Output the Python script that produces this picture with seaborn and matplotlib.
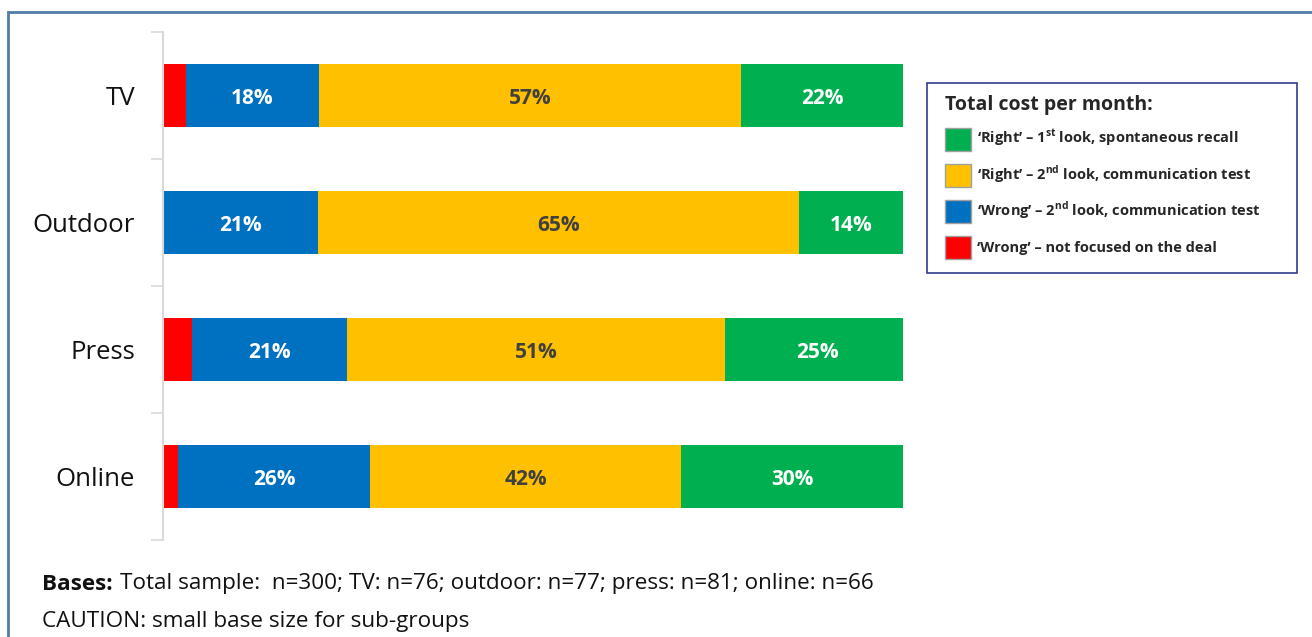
import matplotlib
matplotlib.use("Agg")
import matplotlib.pyplot as plt
import seaborn as sns
import pandas as pd
import numpy as np
from matplotlib.patches import Rectangle, Patch
from matplotlib.ticker import FixedLocator

# ---- data ----
categories = ["TV", "Outdoor", "Press", "Online"]
wrong_not_focused = [3.1, 0.0, 3.9, 2.0]
wrong_second_look = [18, 21, 21, 26]
right_second_look = [57, 65, 51, 42]
right_first_look = [22, 14, 25, 30]
label_wrong_second = ["18%", "21%", "21%", "26%"]
label_right_second = ["57%", "65%", "51%", "42%"]
label_right_first = ["22%", "14%", "25%", "30%"]
series_names = [
    "\u2018Wrong\u2019 \u2013 not focused on the deal",
    "\u2018Wrong\u2019 \u2013 2$^{\\mathbf{nd}}$ look, communication test",
    "\u2018Right\u2019 \u2013 2$^{\\mathbf{nd}}$ look, communication test",
    "\u2018Right\u2019 \u2013 1$^{\\mathbf{st}}$ look, spontaneous recall",
]
legend_title = "Total cost per month:"
colors = ["#FF0000", "#0070C0", "#FFC000", "#00B050"]

sns.set_theme(style="white")
plt.rcParams["font.family"] = ["Open Sans", "DejaVu Sans"]
plt.rcParams["mathtext.fontset"] = "custom"
plt.rcParams["mathtext.bf"] = "Open Sans:bold"
plt.rcParams["mathtext.rm"] = "Open Sans"

df = pd.DataFrame({
    "cat": categories,
    "s0": wrong_not_focused,
    "s1": wrong_second_look,
    "s2": right_second_look,
    "s3": right_first_look,
})
cols = ["s0", "s1", "s2", "s3"]
cum = df[cols].cumsum(axis=1)

fig = plt.figure(figsize=(13.12, 6.37), dpi=100)
ax = fig.add_axes([163 / 1312, 1 - 540 / 637, 740 / 1312, 508 / 637])

# stacked bars: draw cumulative totals from largest to smallest
for i in reversed(range(4)):
    sns.barplot(x=cum[cols[i]], y=df["cat"], orient="h", color=colors[i],
                width=0.49, ax=ax, saturation=1, linewidth=0)

# labels
lefts = cum[cols].values - df[cols].values
label_sets = {1: (label_wrong_second, "white"),
              2: (label_right_second, "#404040"),
              3: (label_right_first, "white")}
for si, (labs, c) in label_sets.items():
    for r in range(len(categories)):
        xc = lefts[r, si] + df[cols[si]].iloc[r] / 2
        ax.text(xc, r + 0.02, labs[r], ha="center", va="center", color=c,
                fontsize=15, fontweight="bold")

ax.set_xlim(0, 100)
ax.set_ylim(3.5, -0.5)
ax.set_xlabel("")
ax.set_ylabel("")
ax.set_xticks([])
for s in ["top", "right", "bottom"]:
    ax.spines[s].set_visible(False)
ax.spines["left"].set_color("#D9D9D9")
ax.spines["left"].set_linewidth(1.5)
ax.tick_params(axis="y", which="major", length=0, pad=20, labelsize=18.5,
               labelcolor="#111111")
ax.yaxis.set_minor_locator(FixedLocator([-0.5, 0.5, 1.5, 2.5, 3.5]))
ax.tick_params(axis="y", which="minor", length=9, color="#D9D9D9", width=1.2, left=True)

# legend
handles = [Patch(facecolor=colors[i], edgecolor="#A0A0A0", label=series_names[i])
           for i in [3, 2, 1, 0]]
leg = fig.legend(handles=handles, loc="upper left",
                 bbox_to_anchor=(939 / 1312, 1 - 89 / 637), frameon=False,
                 title=legend_title, alignment="left", handlelength=1.8,
                 handleheight=2.05, labelspacing=0.88, handletextpad=0.4,
                 borderaxespad=0.0,
                 prop={"size": 10.5, "weight": "bold"},
                 title_fontproperties={"size": 14, "weight": "bold"})
fig.add_artist(Rectangle((927 / 1312, 1 - 273 / 637), 370 / 1312, 190 / 637,
                         transform=fig.transFigure, fill=False,
                         edgecolor="#2F3D8C", linewidth=1.2))

# outer frame
fig.add_artist(Rectangle((8 / 1312, -0.2), 1.2, 1.2 - 12 / 637 + 0.0,
                         transform=fig.transFigure, fill=False,
                         edgecolor="#4F7BA8", linewidth=2))

# footnotes
t1 = fig.text(42 / 1312, 1 - 584 / 637, "Bases:", fontsize=16.2, fontweight="bold",
              va="center", color="#111111")
fig.canvas.draw()
bb = t1.get_window_extent(renderer=fig.canvas.get_renderer())
fig.text((bb.x1 + 7) / 1312, 1 - 584 / 637,
         "Total sample:  n=300; TV: n=76; outdoor: n=77; press: n=81; online: n=66",
         fontsize=16.2, va="center", color="#111111")
fig.text(42 / 1312, 1 - 622 / 637, "CAUTION: small base size for sub-groups",
         fontsize=16.2, va="center", color="#111111")

fig.savefig("out.png", dpi=100)
